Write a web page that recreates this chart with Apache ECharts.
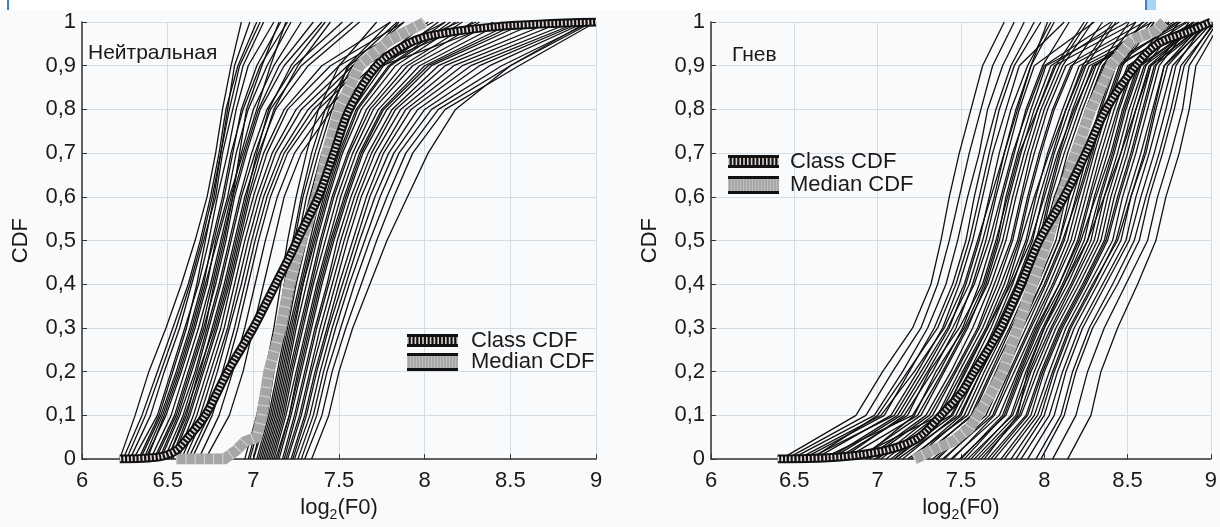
<!DOCTYPE html>
<html><head><meta charset="utf-8">
<script src="https://cdn.jsdelivr.net/npm/echarts@6/dist/echarts.min.js"></script>
<style>html,body{margin:0;padding:0;background:#f9fafc}#c{width:1220px;height:527px}</style>
</head><body><div id="c"></div>
<script>
// CDF levels (y) at which each curve's x = log2(F0) is read
const cdfLevels = [0,0.1,0.2,0.3,0.4,0.5,0.6,0.7,0.8,0.9,1.0];
const xTicks = [6,6.5,7,7.5,8,8.5,9];

// Нейтральная — low-pitch group of speakers
const neutralLow = [
[6.22,6.31,6.39,6.49,6.58,6.66,6.73,6.78,6.82,6.87,6.93],
[6.24,6.35,6.44,6.53,6.62,6.69,6.75,6.80,6.84,6.91,7.02],
[6.28,6.40,6.48,6.57,6.64,6.71,6.78,6.82,6.88,6.94,7.06],
[6.30,6.44,6.52,6.60,6.68,6.74,6.79,6.85,6.90,6.97,7.12],
[6.34,6.46,6.55,6.63,6.70,6.77,6.83,6.88,6.93,7.02,7.16],
[6.37,6.49,6.58,6.66,6.73,6.78,6.85,6.90,6.97,7.08,7.22],
[6.40,6.52,6.60,6.68,6.75,6.81,6.87,6.93,7.00,7.12,7.28],
[6.43,6.55,6.63,6.71,6.78,6.84,6.89,6.96,7.04,7.18,7.40],
[6.46,6.57,6.66,6.73,6.80,6.86,6.92,6.99,7.08,7.24,7.52],
[6.50,6.60,6.69,6.76,6.83,6.89,6.95,7.03,7.13,7.32,7.62],
[6.53,6.63,6.71,6.79,6.86,6.92,6.98,7.06,7.18,7.40,7.80],
[6.56,6.67,6.75,6.83,6.89,6.95,7.02,7.11,7.25,7.50,7.95],
[6.60,6.71,6.79,6.86,6.93,6.99,7.06,7.16,7.32,7.58,8.05],
[6.64,6.76,6.84,6.91,6.97,7.03,7.10,7.20,7.38,7.64,8.20],
[6.33,6.45,6.53,6.61,6.67,6.72,6.77,6.81,6.85,6.89,6.98],
[6.38,6.48,6.57,6.65,6.72,6.79,6.86,6.94,7.02,7.10,7.19],
[6.45,6.56,6.64,6.72,6.77,6.83,6.88,6.92,6.96,7.05,7.15],
[6.52,6.62,6.70,6.78,6.85,6.91,6.97,7.04,7.12,7.26,7.45],
[6.68,6.80,6.88,6.95,7.01,7.07,7.14,7.24,7.42,7.70,8.30],
[6.72,6.86,6.94,7.00,7.06,7.12,7.18,7.28,7.46,7.75,8.45],
[6.26,6.37,6.46,6.55,6.63,6.70,6.76,6.81,6.86,6.92,7.04],
[6.36,6.47,6.56,6.64,6.71,6.76,6.82,6.87,6.94,7.04,7.20],
[6.42,6.54,6.62,6.70,6.76,6.82,6.88,6.95,7.03,7.15,7.35],
[6.48,6.59,6.67,6.74,6.81,6.87,6.93,7.01,7.10,7.28,7.58],
[6.55,6.65,6.73,6.81,6.87,6.93,7.00,7.08,7.20,7.45,7.88],
[6.62,6.74,6.82,6.89,6.95,7.01,7.08,7.18,7.35,7.62,8.12],
[6.50,6.61,6.68,6.77,6.84,6.90,6.96,7.02,7.09,7.22,7.42],
[6.58,6.69,6.77,6.85,6.91,6.97,7.04,7.13,7.28,7.55,8.00]
];
// Нейтральная — high-pitch group of speakers
const neutralHigh = [
[6.95,7.02,7.07,7.12,7.16,7.20,7.25,7.31,7.38,7.50,7.72],
[6.98,7.05,7.10,7.15,7.20,7.24,7.29,7.36,7.44,7.58,7.88],
[7.00,7.08,7.12,7.17,7.22,7.27,7.33,7.40,7.49,7.64,7.96],
[7.03,7.10,7.15,7.20,7.25,7.31,7.37,7.44,7.53,7.69,8.02],
[7.05,7.12,7.17,7.22,7.28,7.34,7.41,7.48,7.58,7.76,8.12],
[7.08,7.15,7.20,7.25,7.31,7.37,7.44,7.52,7.63,7.83,8.22],
[7.10,7.17,7.22,7.28,7.34,7.40,7.47,7.56,7.68,7.90,8.32],
[7.12,7.19,7.25,7.31,7.37,7.44,7.51,7.60,7.73,7.97,8.46],
[7.15,7.22,7.28,7.34,7.40,7.47,7.55,7.64,7.78,8.04,8.60],
[7.18,7.25,7.31,7.37,7.44,7.51,7.59,7.69,7.83,8.12,8.74],
[7.20,7.28,7.34,7.41,7.48,7.55,7.63,7.74,7.89,8.22,8.86],
[7.23,7.31,7.37,7.44,7.52,7.60,7.68,7.79,7.96,8.32,8.92],
[7.26,7.35,7.41,7.48,7.56,7.65,7.74,7.85,8.04,8.45,8.97],
[7.30,7.40,7.46,7.54,7.63,7.72,7.82,7.93,8.12,8.55,9.00],
[7.02,7.09,7.14,7.19,7.24,7.29,7.34,7.41,7.50,7.62,7.85],
[7.07,7.14,7.19,7.24,7.29,7.36,7.43,7.51,7.61,7.80,8.18],
[7.13,7.21,7.26,7.32,7.38,7.45,7.53,7.62,7.75,8.00,8.52],
[7.17,7.24,7.30,7.36,7.43,7.49,7.57,7.67,7.81,8.08,8.66],
[7.22,7.30,7.36,7.43,7.50,7.58,7.66,7.76,7.92,8.27,8.90],
[7.34,7.44,7.50,7.58,7.68,7.78,7.90,8.02,8.18,8.50,8.95],
[7.00,7.06,7.11,7.16,7.21,7.26,7.31,7.38,7.46,7.55,7.80],
[7.09,7.16,7.21,7.27,7.33,7.39,7.46,7.55,7.66,7.87,8.28],
[6.97,7.04,7.09,7.14,7.18,7.23,7.28,7.34,7.42,7.56,7.84],
[7.04,7.11,7.16,7.21,7.27,7.33,7.39,7.46,7.56,7.73,8.08],
[7.11,7.18,7.23,7.29,7.35,7.42,7.49,7.58,7.70,7.93,8.40],
[7.14,7.21,7.27,7.33,7.39,7.46,7.54,7.63,7.76,8.02,8.56],
[7.19,7.27,7.33,7.39,7.46,7.53,7.61,7.71,7.86,8.17,8.80],
[7.24,7.33,7.39,7.46,7.54,7.62,7.71,7.82,8.00,8.38,8.94],
[7.28,7.37,7.43,7.51,7.59,7.68,7.78,7.89,8.08,8.50,8.98],
[7.06,7.13,7.18,7.23,7.29,7.35,7.42,7.50,7.60,7.79,8.15]
];
const neutralClassX = [6.22,6.45,6.55,6.62,6.72,6.85,7.00,7.13,7.22,7.28,7.38,7.47,7.56,7.72,7.90,8.05,8.44,9.00];
const neutralClassY = [0,0.005,0.02,0.05,0.1,0.2,0.3,0.4,0.47,0.52,0.6,0.7,0.8,0.9,0.95,0.97,0.99,1.0];
const neutralMedianX = [6.55,6.83,6.90,6.95,7.02,7.05,7.09,7.16,7.21,7.28,7.37,7.43,7.50,7.62,7.80,7.98,8.00];
const neutralMedianY = [0,0,0.02,0.04,0.05,0.1,0.2,0.3,0.4,0.5,0.6,0.7,0.8,0.9,0.96,0.995,1.0];

// Гнев
const angerCurves = [
[6.42,6.87,7.03,7.21,7.32,7.38,7.43,7.49,7.56,7.63,7.76],
[6.45,6.93,7.09,7.26,7.36,7.43,7.49,7.55,7.62,7.69,7.82],
[6.48,6.98,7.15,7.30,7.41,7.48,7.54,7.61,7.66,7.75,7.88],
[6.55,7.04,7.19,7.34,7.45,7.53,7.58,7.64,7.71,7.80,7.94],
[6.62,7.08,7.24,7.39,7.49,7.57,7.63,7.69,7.77,7.85,8.12],
[6.70,7.12,7.28,7.43,7.53,7.61,7.67,7.73,7.80,7.90,8.04],
[6.78,7.16,7.33,7.47,7.57,7.65,7.71,7.78,7.85,7.94,8.30],
[6.66,7.21,7.37,7.51,7.61,7.69,7.75,7.82,7.89,7.99,8.15],
[6.88,7.26,7.40,7.54,7.65,7.73,7.79,7.86,7.94,8.04,8.45],
[6.93,7.29,7.44,7.57,7.68,7.77,7.83,7.90,7.98,8.09,8.26],
[7.00,7.33,7.47,7.61,7.72,7.81,7.87,7.94,8.02,8.13,8.60],
[6.85,7.37,7.51,7.65,7.76,7.85,7.91,7.98,8.06,8.17,8.35],
[7.08,7.41,7.55,7.68,7.79,7.89,7.95,8.02,8.11,8.21,8.70],
[6.98,7.44,7.59,7.71,7.83,7.93,7.99,8.06,8.15,8.25,8.43],
[7.12,7.49,7.62,7.75,7.87,7.97,8.03,8.10,8.19,8.29,8.80],
[7.18,7.54,7.66,7.79,7.91,8.01,8.07,8.14,8.23,8.33,8.51],
[7.24,7.57,7.69,7.82,7.94,8.05,8.11,8.18,8.26,8.36,8.85],
[7.28,7.61,7.72,7.85,7.98,8.09,8.15,8.22,8.30,8.40,8.59],
[7.33,7.65,7.77,7.89,8.01,8.12,8.19,8.26,8.34,8.43,8.90],
[7.39,7.69,7.80,7.92,8.05,8.16,8.23,8.30,8.38,8.47,8.66],
[7.44,7.73,7.84,7.95,8.09,8.20,8.27,8.34,8.42,8.51,8.93],
[7.49,7.77,7.87,7.99,8.12,8.24,8.30,8.38,8.45,8.54,8.73],
[7.54,7.81,7.91,8.02,8.16,8.28,8.34,8.42,8.49,8.58,8.95],
[7.60,7.85,7.94,8.05,8.19,8.32,8.38,8.46,8.53,8.61,8.81],
[7.66,7.89,7.98,8.09,8.23,8.36,8.42,8.50,8.57,8.64,8.97],
[7.74,7.94,8.03,8.13,8.27,8.41,8.47,8.55,8.62,8.69,8.89],
[7.83,8.00,8.08,8.18,8.32,8.46,8.52,8.61,8.67,8.74,8.98],
[7.90,8.06,8.13,8.23,8.37,8.51,8.58,8.66,8.73,8.79,8.97],
[7.98,8.12,8.19,8.29,8.44,8.57,8.63,8.71,8.78,8.84,9.02],
[8.05,8.19,8.26,8.36,8.49,8.62,8.68,8.76,8.83,8.87,9.04],
[8.14,8.28,8.34,8.44,8.56,8.67,8.73,8.81,8.87,8.91,9.06],
[6.52,7.02,7.22,7.40,7.52,7.60,7.68,7.76,7.84,7.92,8.06],
[6.75,7.18,7.31,7.49,7.63,7.71,7.78,7.85,7.96,8.07,8.24],
[7.05,7.39,7.53,7.66,7.78,7.86,7.94,8.03,8.13,8.23,8.41],
[7.22,7.52,7.64,7.77,7.89,7.99,8.06,8.16,8.25,8.35,8.55],
[7.36,7.63,7.75,7.87,8.00,8.11,8.20,8.28,8.37,8.46,8.64],
[7.52,7.76,7.86,7.97,8.11,8.22,8.31,8.40,8.47,8.56,8.75],
[7.70,7.92,8.00,8.11,8.25,8.38,8.45,8.53,8.60,8.67,8.87],
[6.58,7.10,7.26,7.42,7.55,7.63,7.70,7.76,7.83,7.92,8.02],
[6.95,7.31,7.46,7.60,7.70,7.80,7.86,7.92,8.00,8.11,8.29],
[6.60,7.00,7.18,7.36,7.47,7.55,7.61,7.67,7.73,7.82,7.98],
[6.90,7.22,7.35,7.52,7.64,7.72,7.77,7.84,7.92,8.01,8.50],
[7.10,7.45,7.58,7.70,7.81,7.90,7.97,8.05,8.13,8.24,8.75],
[7.30,7.59,7.71,7.83,7.96,8.07,8.13,8.20,8.29,8.38,8.82],
[7.45,7.70,7.82,7.94,8.06,8.18,8.25,8.32,8.40,8.50,8.92],
[7.58,7.83,7.92,8.04,8.17,8.30,8.36,8.44,8.51,8.60,8.96],
[7.80,7.98,8.06,8.16,8.30,8.43,8.50,8.58,8.65,8.72,9.00],
[7.95,8.10,8.17,8.27,8.41,8.54,8.61,8.69,8.76,8.82,9.03],
[6.72,7.14,7.30,7.45,7.58,7.67,7.74,7.81,7.90,8.00,8.40],
[7.02,7.36,7.49,7.63,7.74,7.84,7.90,7.97,8.05,8.16,8.65],
[7.15,7.47,7.60,7.73,7.85,7.95,8.02,8.09,8.17,8.27,8.78],
[7.26,7.56,7.68,7.80,7.93,8.03,8.10,8.17,8.25,8.35,8.70],
[7.40,7.67,7.79,7.91,8.03,8.14,8.21,8.29,8.36,8.45,8.86],
[7.56,7.80,7.89,8.00,8.14,8.26,8.33,8.41,8.48,8.57,8.94],
[7.68,7.90,7.99,8.10,8.24,8.37,8.44,8.52,8.59,8.66,8.99],
[7.86,8.03,8.11,8.21,8.35,8.49,8.55,8.63,8.70,8.77,9.01],
[6.80,7.24,7.39,7.53,7.66,7.75,7.81,7.88,7.96,8.06,8.55],
[7.20,7.50,7.62,7.76,7.88,7.98,8.04,8.12,8.21,8.31,8.62],
[7.35,7.62,7.74,7.86,7.98,8.09,8.17,8.25,8.33,8.42,8.80],
[7.50,7.75,7.85,7.96,8.09,8.21,8.28,8.36,8.44,8.53,8.90],
[7.62,7.86,7.96,8.07,8.21,8.34,8.40,8.48,8.55,8.63,8.93],
[7.10,7.40,7.52,7.66,7.80,7.92,8.00,8.08,8.18,8.30,8.70],
[7.64,7.84,7.90,8.00,8.12,8.26,8.36,8.46,8.55,8.64,8.98],
[7.76,7.96,8.05,8.15,8.29,8.44,8.52,8.60,8.66,8.72,8.96]
];
const angerClassX = [6.40,6.70,6.90,7.10,7.25,7.38,7.50,7.58,7.74,7.86,7.97,8.12,8.25,8.37,8.55,8.68,8.88,9.00];
const angerClassY = [0,0.003,0.01,0.025,0.05,0.1,0.15,0.2,0.3,0.4,0.5,0.6,0.7,0.8,0.9,0.95,0.98,1.0];
const angerMedianX = [7.22,7.30,7.45,7.55,7.60,7.68,7.75,7.84,7.93,8.02,8.10,8.19,8.28,8.40,8.53,8.67,8.72];
const angerMedianY = [0,0.015,0.04,0.07,0.1,0.15,0.2,0.3,0.4,0.5,0.6,0.7,0.8,0.9,0.96,0.98,1.0];

const panelTitles = ['Нейтральная','Гнев'];
const legendNames = ['Class CDF','Median CDF'];

const FONT = '"Liberation Sans", Arial, Helvetica, sans-serif';
const chart = echarts.init(document.getElementById('c'), null, {renderer:'canvas'});

function pairs(xs, ys){ return xs.map((x,i)=>[x, ys[i]]); }
function curve(xs, gi){
  return {type:'line', xAxisIndex:gi, yAxisIndex:gi, data: cdfLevels.map((y,i)=>[xs[i],y]),
    showSymbol:false, silent:true, z:2, lineStyle:{color:'#111', width:1.3}};
}
function classSeries(xs, ys, gi){
  const d = pairs(xs, ys);
  return [
    {type:'line', xAxisIndex:gi, yAxisIndex:gi, data:d, showSymbol:false, silent:true, z:5, smooth:0.3,
      lineStyle:{color:'#111', width:9, cap:'butt', join:'round'}},
    {type:'line', xAxisIndex:gi, yAxisIndex:gi, data:d, showSymbol:false, silent:true, z:6, smooth:0.3,
      lineStyle:{color:'#e6dcd8', width:5, type:[1.6,2.2], cap:'butt', join:'round'}}
  ];
}
function medianSeries(xs, ys, gi){
  const d = pairs(xs, ys);
  return [
    {type:'line', xAxisIndex:gi, yAxisIndex:gi, data:d, showSymbol:false, silent:true, z:3,
      lineStyle:{color:'#a6a6a6', width:11, cap:'butt', join:'miter'}},
    {type:'line', xAxisIndex:gi, yAxisIndex:gi, data:d, showSymbol:false, silent:true, z:4,
      lineStyle:{color:'#cfcfcf', width:11, type:[1.2,8], cap:'butt'}}
  ];
}

function xAxis(gi){
  return {type:'value', gridIndex:gi, min:xTicks[0], max:xTicks[xTicks.length-1], interval:0.5,
    axisLine:{show:true, onZero:false, lineStyle:{color:'#333', width:1.5}},
    axisTick:{show:true, inside:true, length:5, lineStyle:{color:'#333'}},
    axisLabel:{color:'#1a1a1a', fontSize:22, fontFamily:FONT, margin:11, formatter:v=>String(v)},
    splitLine:{show:true, lineStyle:{color:'#d6dce4', width:1}},
    name:'{n|log}{s|2}{n|(F0)}', nameLocation:'middle', nameGap:34,
    nameTextStyle:{rich:{n:{fontSize:22, fontFamily:FONT, color:'#1a1a1a'}, s:{fontSize:14, fontFamily:FONT, color:'#1a1a1a', padding:[14,0,0,0]}}}
  };
}
function yAxis(gi){
  return {type:'value', gridIndex:gi, min:0, max:1, interval:0.1,
    axisLine:{show:true, lineStyle:{color:'#333', width:1.5}},
    axisTick:{show:true, inside:true, length:5, lineStyle:{color:'#333'}},
    axisLabel:{color:'#1a1a1a', fontSize:22, fontFamily:FONT, margin:6,
      formatter:v=> (v===0?'0':(v===1?'1':v.toFixed(1).replace('.',',')))},
    splitLine:{show:true, lineStyle:{color:'#d6dce4', width:1}},
    name:'CDF', nameLocation:'middle', nameGap:50,
    nameTextStyle:{fontSize:22, fontFamily:FONT, color:'#1a1a1a'}
  };
}

const series = [];
neutralLow.forEach(c=>series.push(curve(c,0)));
neutralHigh.forEach(c=>series.push(curve(c,0)));
series.push(...medianSeries(neutralMedianX, neutralMedianY, 0));
series.push(...classSeries(neutralClassX, neutralClassY, 0));
angerCurves.forEach(c=>series.push(curve(c,1)));
series.push(...medianSeries(angerMedianX, angerMedianY, 1));
series.push(...classSeries(angerClassX, angerClassY, 1));

function legendBlock(x, y1, y2, tx){
  return [
    {type:'rect', shape:{x:x, y:y1, width:51, height:13}, style:{fill:'#111'}, z:100},
    {type:'line', shape:{x1:x, y1:y1+6.5, x2:x+51, y2:y1+6.5}, style:{stroke:'#d8d0cc', lineWidth:7, lineDash:[1.6,2.2]}, z:101},
    {type:'rect', shape:{x:x, y:y2, width:51, height:18}, style:{fill:'#111'}, z:100},
    {type:'rect', shape:{x:x, y:y2+3, width:51, height:12}, style:{fill:'#a8a8a8'}, z:101},
    {type:'line', shape:{x1:x, y1:y2+9, x2:x+51, y2:y2+9}, style:{stroke:'#bdbdbd', lineWidth:12, lineDash:[1,2]}, z:102},
    {type:'text', x:tx, y:y1+6.5, style:{text:legendNames[0], font:'22px '+FONT, fill:'#1a1a1a', textVerticalAlign:'middle'}, z:103},
    {type:'text', x:tx, y:y2+9, style:{text:legendNames[1], font:'22px '+FONT, fill:'#1a1a1a', textVerticalAlign:'middle'}, z:103}
  ];
}

const option = {
  backgroundColor:'#f9fafc',
  animation:false,
  grid:[{left:82, top:22, width:514, height:442},{left:711, top:22, width:513, height:442}],
  xAxis:[xAxis(0), xAxis(1)],
  yAxis:[yAxis(0), yAxis(1)],
  series: series,
  graphic:[
    {type:'rect', shape:{x:0,y:0,width:1220,height:10}, style:{fill:'#ffffff'}, z:0},
    {type:'rect', shape:{x:7,y:0,width:2,height:10}, style:{fill:'#3b82c8'}, z:100},
    {type:'rect', shape:{x:1145,y:0,width:11,height:10}, style:{fill:'#a8d6f2'}, z:100},
    {type:'rect', shape:{x:1145,y:0,width:2,height:10}, style:{fill:'#3a7fc8'}, z:100},
    {type:'text', x:88, y:53, style:{text:panelTitles[0], font:'21px '+FONT, fill:'#1a1a1a', textVerticalAlign:'middle'}, z:100},
    {type:'text', x:732, y:55, style:{text:panelTitles[1], font:'21px '+FONT, fill:'#1a1a1a', textVerticalAlign:'middle'}, z:100},
    ...legendBlock(407, 334, 353, 471),
    ...legendBlock(728, 155, 176, 790)
  ]
};
chart.setOption(option);
</script></body></html>
